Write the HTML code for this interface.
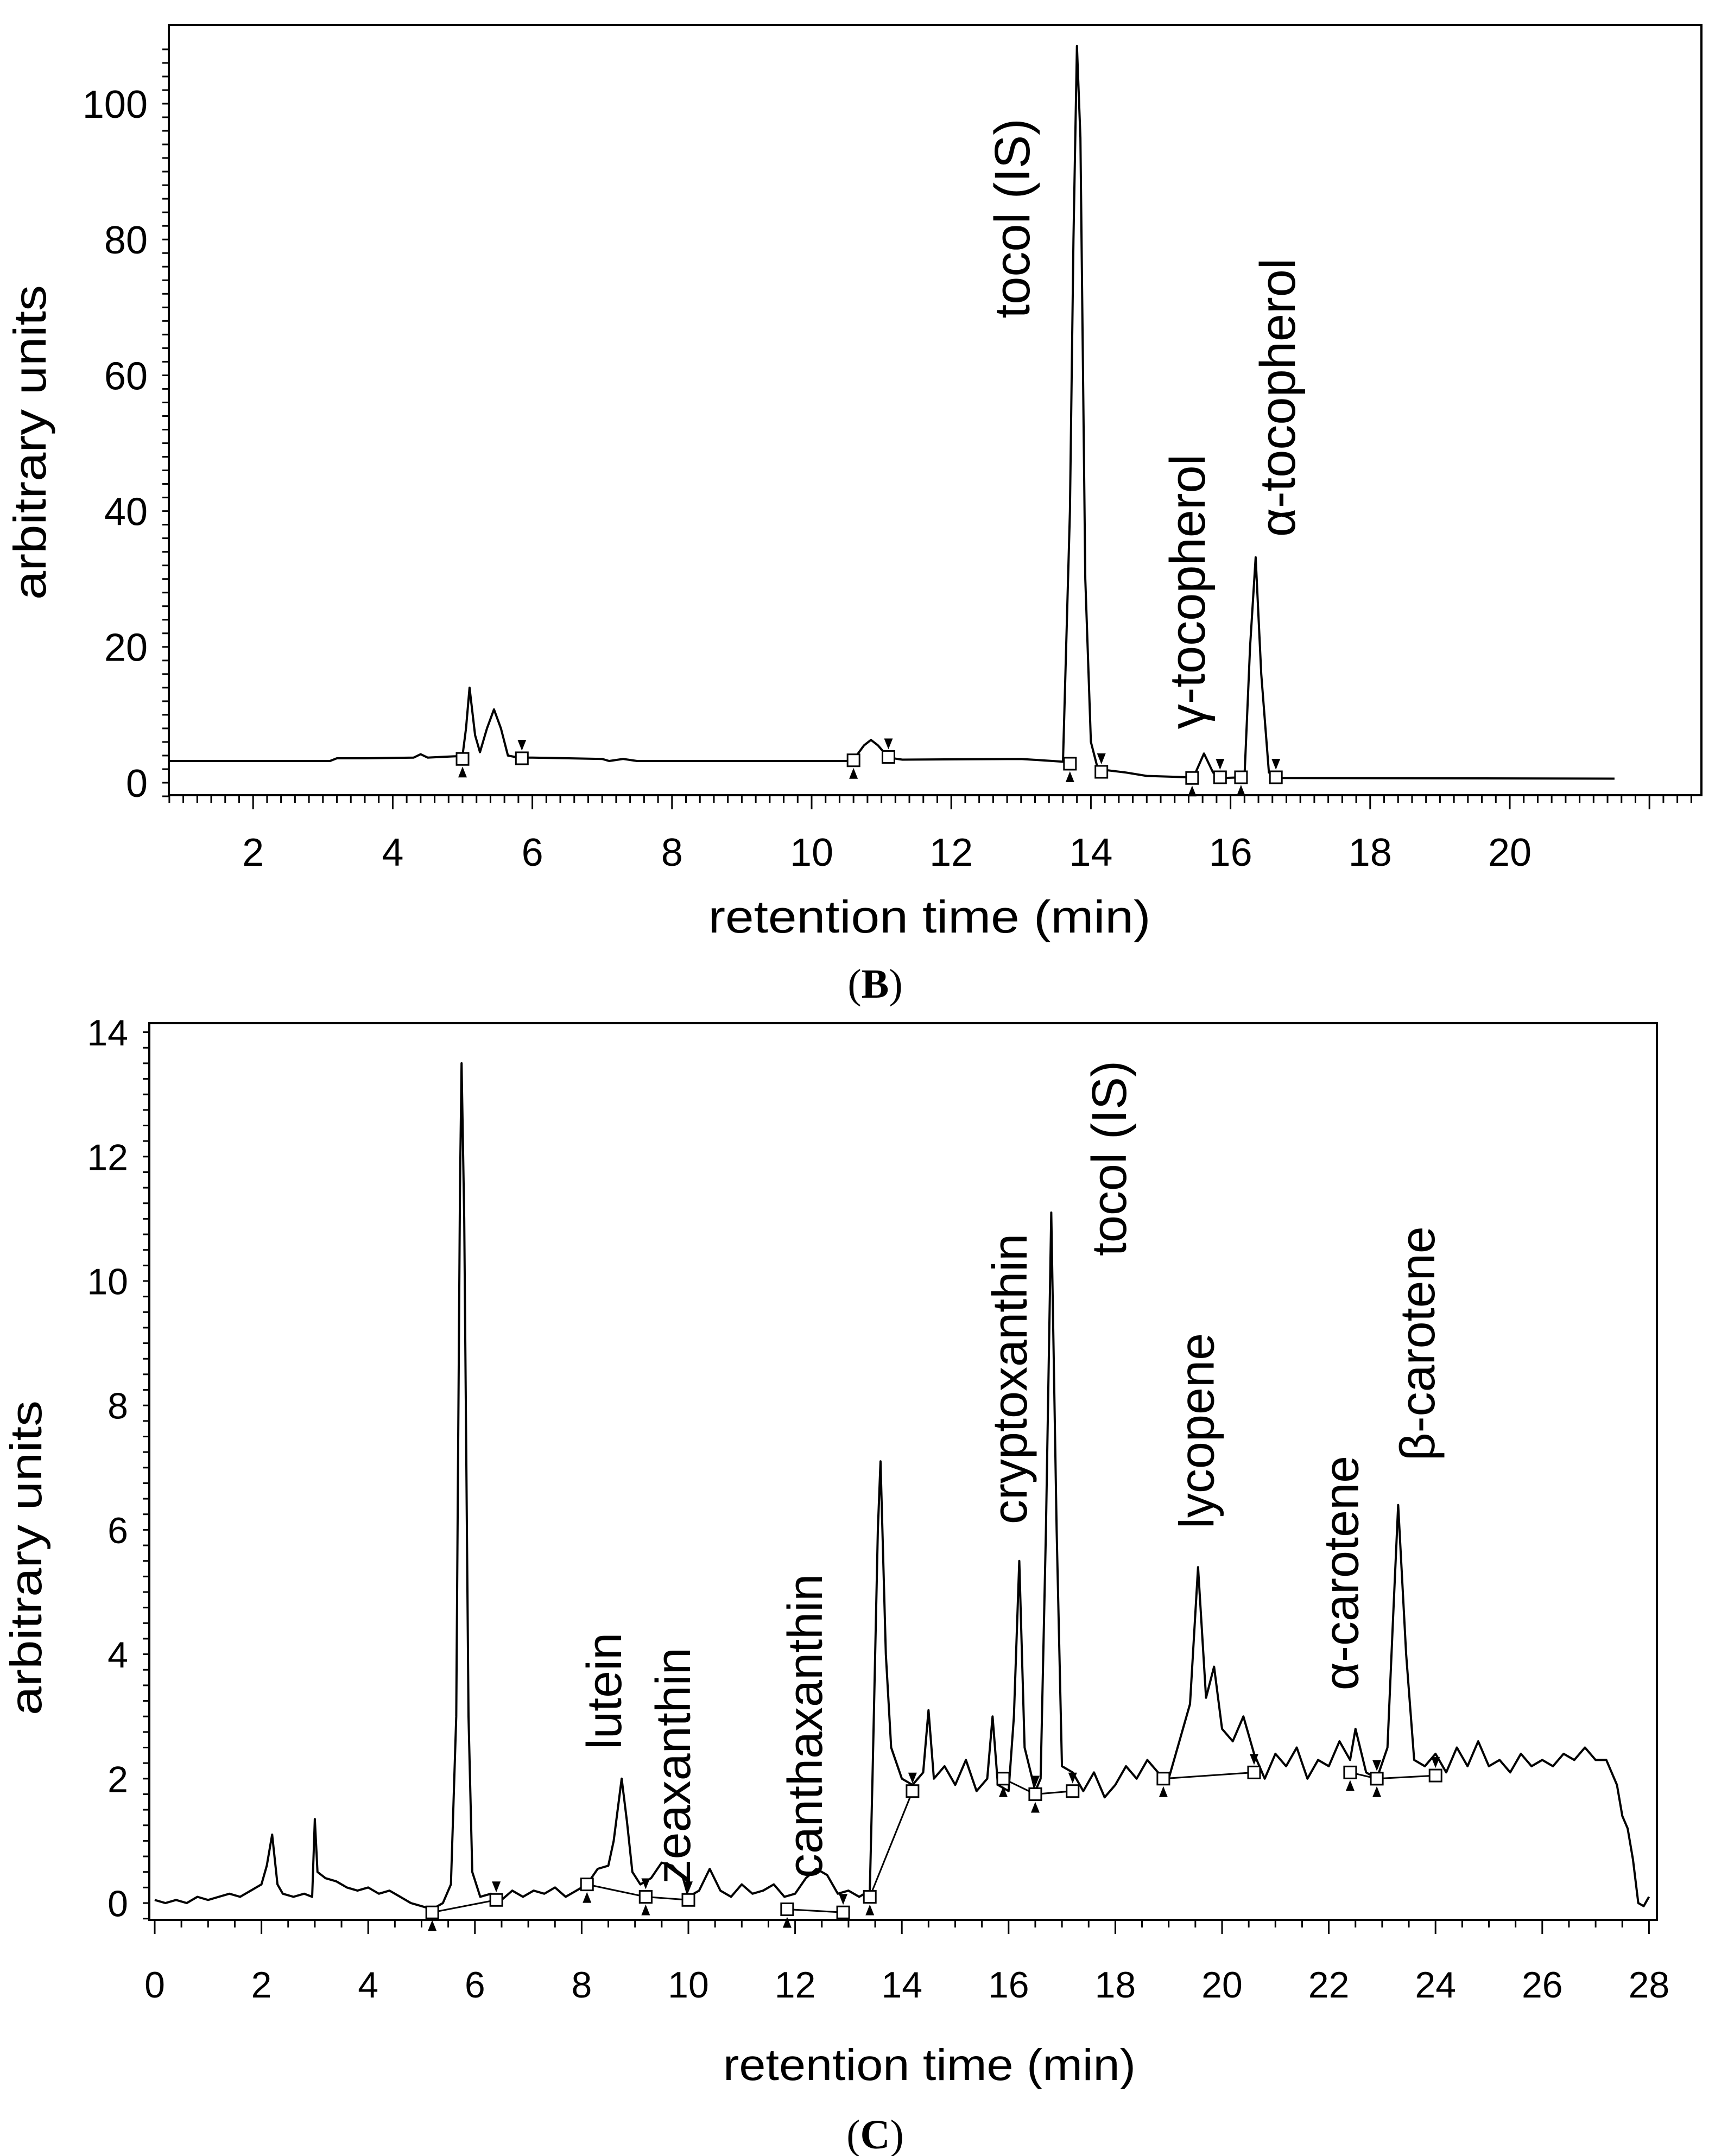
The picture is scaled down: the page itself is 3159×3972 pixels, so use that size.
<!DOCTYPE html>
<html><head><meta charset="utf-8"><style>
html,body{margin:0;padding:0;background:#fff}
svg{display:block}
text{font-family:"Liberation Sans",sans-serif;fill:#000}
</style></head><body>
<svg id="svg" width="3159" height="3972" viewBox="0 0 3159 3972" xmlns="http://www.w3.org/2000/svg">
<g id="gB"></g>
<g id="gC"></g>
</svg>
<script>
// ---- Chart B data ----
const bTimes = [0.8,3.1,3.2,3.6,4.3,4.4,4.5,4.9,5.0,5.05,5.1,5.18,5.25,5.35,5.45,5.55,5.65,5.8,6.0,7.0,7.1,7.3,7.5,10.5,10.6,10.75,10.85,10.95,11.1,11.3,13.0,13.6,13.7,13.75,13.8,13.85,13.92,14.0,14.1,14.5,14.8,15.4,15.5,15.62,15.75,15.9,16.2,16.28,16.36,16.44,16.55,16.7,21.5];
const bValues = [3.2,3.2,3.6,3.6,3.7,4.2,3.7,3.9,4.0,8,14,7,4.5,8,10.8,8,4,3.7,3.7,3.5,3.2,3.5,3.2,3.2,3.4,5.5,6.3,5.5,3.7,3.4,3.5,3.1,40,80,108.5,95,30,6,2,1.5,1.0,0.8,1.5,4.3,1.5,0.7,0.8,20,33.2,16,1.5,0.7,0.6];
const bSquareT = [5.0,5.85,10.6,11.1,13.7,14.15,15.45,15.85,16.15,16.65];
const bSquareV = [3.5,3.6,3.3,3.8,2.8,1.6,0.7,0.8,0.8,0.8];
const bYTicks = [0,20,40,60,80,100];
const bXTicks = [2,4,6,8,10,12,14,16,18,20];
const bLabels = ["tocol (IS)","γ-tocopherol","α-tocopherol"];
const bLabelT = [13.12,15.63,16.92];
const bLabelV = [68.4,7.9,36.2];

// ---- Chart C data ----
const cTimes = [0,0.2,0.4,0.6,0.8,1.0,1.2,1.4,1.6,1.8,2.0,2.1,2.2,2.3,2.4,2.6,2.8,2.95,3.0,3.05,3.2,3.4,3.6,3.8,4.0,4.2,4.4,4.6,4.8,5.0,5.2,5.4,5.55,5.65,5.72,5.75,5.8,5.88,5.95,6.1,6.3,6.5,6.7,6.9,7.1,7.3,7.5,7.7,7.9,8.1,8.3,8.5,8.6,8.75,8.85,8.95,9.1,9.3,9.5,9.7,9.9,10.0,10.2,10.4,10.6,10.8,11.0,11.2,11.4,11.6,11.8,12.0,12.2,12.4,12.6,12.8,13.0,13.2,13.4,13.45,13.55,13.6,13.7,13.8,14.0,14.2,14.4,14.5,14.6,14.8,15.0,15.2,15.4,15.6,15.7,15.8,16.0,16.1,16.2,16.3,16.5,16.6,16.7,16.8,16.9,17.0,17.2,17.4,17.6,17.8,18.0,18.2,18.4,18.6,18.8,19.0,19.2,19.4,19.55,19.7,19.85,20.0,20.2,20.4,20.6,20.8,21.0,21.2,21.4,21.6,21.8,22.0,22.2,22.4,22.5,22.7,22.9,23.1,23.2,23.3,23.45,23.6,23.8,24.0,24.2,24.4,24.6,24.8,25.0,25.2,25.4,25.6,25.8,26.0,26.2,26.4,26.6,26.8,27.0,27.2,27.4,27.5,27.6,27.7,27.8,27.9,28.0];
const cValues = [0.05,0.0,0.05,0.0,0.1,0.05,0.1,0.15,0.1,0.2,0.3,0.6,1.1,0.3,0.15,0.1,0.15,0.1,1.35,0.5,0.4,0.35,0.25,0.2,0.25,0.15,0.2,0.1,0.0,-0.05,-0.1,0.0,0.3,3,11.5,13.5,11,3,0.5,0.1,0.15,0.05,0.2,0.1,0.2,0.15,0.25,0.1,0.2,0.3,0.55,0.6,1.0,2.0,1.3,0.5,0.3,0.4,0.65,0.6,0.4,0.1,0.2,0.55,0.2,0.1,0.3,0.15,0.2,0.3,0.1,0.15,0.4,0.55,0.45,0.15,0.2,0.1,0.2,2.0,6.0,7.1,4.0,2.5,2.0,1.9,2.1,3.1,2.0,2.2,1.9,2.3,1.8,2.0,3.0,1.9,1.8,3.0,5.5,2.5,1.8,2.0,6.0,11.1,6.0,2.2,2.1,1.8,2.1,1.7,1.9,2.2,2.0,2.3,2.1,2.0,2.6,3.2,5.4,3.3,3.8,2.8,2.6,3.0,2.4,2.0,2.4,2.2,2.5,2.0,2.3,2.2,2.6,2.3,2.8,2.1,2.0,2.5,4.5,6.4,4.0,2.3,2.2,2.4,2.1,2.5,2.2,2.6,2.2,2.3,2.1,2.4,2.2,2.3,2.2,2.4,2.3,2.5,2.3,2.3,1.9,1.4,1.2,0.7,0.0,-0.05,0.1];
const cSegStartT = [5.2,8.1,9.2,11.85,13.4,15.9,16.5,18.9,22.4,22.9];
const cSegStartV = [-0.15,0.3,0.1,-0.1,0.1,2.0,1.75,2.0,2.1,2.0];
const cSegEndT = [6.4,9.2,10.0,12.9,14.2,16.5,17.2,20.6,22.9,24.0];
const cSegEndV = [0.05,0.1,0.05,-0.15,1.8,1.75,1.8,2.1,2.0,2.05];
const cYTicks = [0,2,4,6,8,10,12,14];
const cXTicks = [0,2,4,6,8,10,12,14,16,18,20,22,24,26,28];
const cLabels = ["lutein","zeaxanthin","canthaxanthin","cryptoxanthin","tocol (IS)","lycopene","α-carotene","β-carotene"];
const cLabelT = [8.74,10.03,12.5,16.34,18.2,19.84,22.55,23.98];
const cLabelV = [2.47,0.31,0.40,6.09,10.4,6.02,3.42,7.11];

const NS="http://www.w3.org/2000/svg";
function mk(parent,tag,attrs,txt){const e=document.createElementNS(NS,tag);for(const k in attrs)e.setAttribute(k,attrs[k]);if(txt!==undefined)e.textContent=txt;parent.appendChild(e);return e;}

const bx=t=>209+128.6*t, by=v=>1442-12.51*v;
const cx=t=>285+98.3*t, cy=v=>3506-114.6*v;

function drawChart(g,o){
  const fr=mk(g,'rect',{x:o.L,y:o.T,width:o.R-o.L,height:o.B-o.T,fill:'none',stroke:'#000','stroke-width':4});
  
  for(let t=o.xmin;t<=o.xmax+1e-6;t+=o.xminor){const X=o.X(t);const major=Math.abs(t/2-Math.round(t/2))<1e-6;
    const tk=mk(g,'line',{x1:X,y1:o.B,x2:X,y2:o.B+(major?26:14),stroke:'#000','stroke-width':3});
    }
  o.xt.forEach(t=>{const tl=mk(g,'text',{x:o.X(t),y:o.xlabY,'font-size':o.fs,'text-anchor':'middle'},String(t));
    });
  for(let v=o.ymin;v<=o.ymax+1e-6;v+=o.yminor){const Y=o.Y(v);
    const tk=mk(g,'line',{x1:o.L-12,y1:Y,x2:o.L,y2:Y,stroke:'#000','stroke-width':3});
    }
  o.yt.forEach(v=>{const tl=mk(g,'text',{x:o.ylabX,y:o.Y(v)+o.fs*0.36,'font-size':o.fs,'text-anchor':'end'},String(v));
    });
  const yt=mk(g,'text',{x:0,y:0,'font-size':o.tfs,'text-anchor':'middle',textLength:o.ytLen,lengthAdjust:'spacingAndGlyphs',transform:`translate(${o.ytX},${o.ytY}) rotate(-90)`},'arbitrary units');
  
  const xt=mk(g,'text',{x:o.xtX,y:o.xtY,'font-size':o.tfs,'text-anchor':'middle',textLength:o.xtLen,lengthAdjust:'spacingAndGlyphs'},'retention time (min)');
  
  const pn=mk(g,'text',{x:o.xtX-100,y:o.pY,'font-size':o.pfs,'text-anchor':'middle',style:'font-family:"Liberation Serif",serif'});
  
  pn.innerHTML='(<tspan font-weight="bold">'+o.panel+'</tspan>)';
  const d=o.times.map((t,i)=>(i?'L':'M')+o.X(t).toFixed(1)+' '+o.Y(o.vals[i]).toFixed(1)).join(' ');
  const tr=mk(g,'path',{d:d,fill:'none',stroke:'#000','stroke-width':4,'stroke-linejoin':'round'});
  
  o.labels.forEach((s,i)=>{const l=mk(g,'text',{x:0,y:0,'font-size':o.lfs,'text-anchor':'start',transform:`translate(${o.X(o.lt[i])},${o.Y(o.lv[i])}) rotate(-90)`},s);
    });
}
function square(g,X,Y){const s=mk(g,'rect',{x:X-11,y:Y-11,width:22,height:22,fill:'#fff',stroke:'#000','stroke-width':3});
  }
function tri(g,X,Y,up){const p=up?`${X-8},${Y+34} ${X+8},${Y+34} ${X},${Y+14}`:`${X-8},${Y-34} ${X+8},${Y-34} ${X},${Y-14}`;
  const t=mk(g,'polygon',{points:p,fill:'#000'});
  }

const gB=document.getElementById('gB');
drawChart(gB,{L:311,T:46,R:3134,B:1465,X:bx,Y:by,xmin:0.8,xmax:22.6,xminor:0.2,ymin:-2,ymax:108,yminor:2,
  xt:bXTicks,yt:bYTicks,fs:72,tfs:84,lfs:92,pfs:76,xlabY:1595,ylabX:272,ytX:84,ytY:815,ytLen:580,xtX:1712,xtY:1718,xtLen:815,pY:1838,panel:'B',
  times:bTimes,vals:bValues,labels:bLabels,lt:bLabelT,lv:bLabelV});
const gBm=mk(gB,'g',{});

bSquareT.forEach((t,i)=>{square(gBm,bx(t),by(bSquareV[i]));tri(gBm,bx(t),by(bSquareV[i]),i%2===0);});

const gC=document.getElementById('gC');
drawChart(gC,{L:275,T:1885,R:3052,B:3537,X:cx,Y:cy,xmin:0,xmax:28,xminor:0.5,ymin:-0.25,ymax:14,yminor:0.25,
  xt:cXTicks,yt:cYTicks,fs:68,tfs:82,lfs:90,pfs:76,xlabY:3680,ylabX:236,ytX:76,ytY:2870,ytLen:580,xtX:1712,xtY:3832,xtLen:760,pY:3958,panel:'C',
  times:cTimes,vals:cValues,labels:cLabels,lt:cLabelT,lv:cLabelV});
const gCm=mk(gC,'g',{});

cSegStartT.forEach((t,i)=>{const bl=mk(gCm,'line',{x1:cx(t),y1:cy(cSegStartV[i]),x2:cx(cSegEndT[i]),y2:cy(cSegEndV[i]),stroke:'#000','stroke-width':3});
  });
cSegStartT.forEach((t,i)=>{square(gCm,cx(t),cy(cSegStartV[i]));tri(gCm,cx(t),cy(cSegStartV[i]),true);
  square(gCm,cx(cSegEndT[i]),cy(cSegEndV[i]));tri(gCm,cx(cSegEndT[i]),cy(cSegEndV[i]),false);});
</script>
</body></html>
